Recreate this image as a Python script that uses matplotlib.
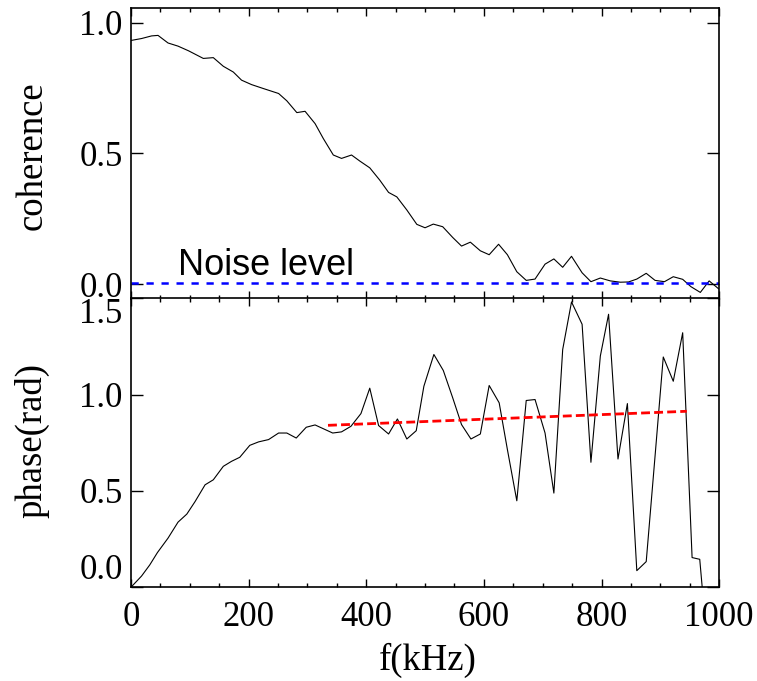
import matplotlib
matplotlib.use('Agg')
import matplotlib.pyplot as plt
from matplotlib.ticker import MultipleLocator, FormatStrFormatter

# coherence spectrum (top panel)
f_coh = [1, 18, 35, 46, 63, 80, 98, 123, 140, 157, 174, 188, 205, 225, 251,
         265, 282, 296, 313, 327, 344, 358, 375, 389, 406, 423, 438, 452, 469,
         486, 500, 514, 530, 547, 562, 577, 594, 609, 625, 640, 656, 672, 687,
         704, 719, 734, 749, 767, 782, 798, 815, 832, 846, 860, 876, 891, 907,
         922, 938, 952, 968, 983, 999]
coh = [0.932, 0.939, 0.949, 0.951, 0.922, 0.910, 0.892, 0.863, 0.866, 0.833,
       0.811, 0.780, 0.763, 0.748, 0.729, 0.701, 0.656, 0.661, 0.614, 0.557,
       0.494, 0.481, 0.494, 0.471, 0.445, 0.398, 0.351, 0.334, 0.284, 0.229,
       0.216, 0.230, 0.220, 0.179, 0.146, 0.161, 0.128, 0.113, 0.153, 0.113,
       0.048, 0.015, 0.020, 0.077, 0.097, 0.065, 0.107, 0.044, 0.010, 0.024,
       0.013, 0.008, 0.009, 0.020, 0.042, 0.015, 0.010, 0.029, 0.019, -0.009,
       -0.031, 0.013, -0.017]

# cross phase (bottom panel)
f_ph = [1, 18, 32, 45, 63, 80, 95, 109, 126, 140, 157, 171, 185, 202, 217,
        234, 251, 265, 281, 298, 313, 328, 343, 358, 374, 391, 406, 421, 438,
        453, 469, 485, 498, 515, 531, 547, 562, 578, 594, 609, 626, 640, 656,
        672, 687, 704, 719, 734, 749, 767, 782, 798, 812, 828, 844, 860, 876,
        891, 905, 922, 938, 954, 967, 985]
phase = [0.002, 0.057, 0.115, 0.179, 0.254, 0.337, 0.379, 0.444, 0.531, 0.557,
         0.627, 0.653, 0.674, 0.736, 0.754, 0.766, 0.800, 0.800, 0.774, 0.830,
         0.842, 0.821, 0.800, 0.806, 0.835, 0.901, 1.033, 0.839, 0.795, 0.873,
         0.769, 0.812, 1.043, 1.208, 1.125, 0.983, 0.844, 0.769, 0.795, 1.047,
         0.957, 0.714, 0.448, 0.969, 0.974, 0.800, 0.488, 1.234, 1.481, 1.365,
         0.648, 1.200, 1.417, 0.665, 0.953, 0.085, 0.132, 0.679, 1.195, 1.069,
         1.321, 0.153, 0.144, -0.48]

noise_x = [0, 1000]
noise_y = [0.005, 0.005]
fit_x = [335, 945]
fit_y = [0.84, 0.913]

plt.rcParams['font.family'] = ['Liberation Serif', 'DejaVu Serif']

fig = plt.figure(figsize=(7.57, 6.81), dpi=100)
ax1 = fig.add_axes([0.173, 0.561, 0.777, 0.427])
ax2 = fig.add_axes([0.173, 0.138, 0.777, 0.424])

ax1.plot(f_coh, coh, color='black', lw=0.8)
ax1.plot(noise_x, noise_y, color='#0000ff', lw=1.8, dashes=(2.9, 3.1))
ax1.text(80, 0.035, 'Noise level', fontsize=26, family=['Liberation Sans', 'DejaVu Sans'],
         ha='left', va='baseline')
ax1.set_xlim(0, 1000)
ax1.set_ylim(-0.056, 1.055)
ax1.set_yticks([0.0, 0.5, 1.0])

ax2.plot(f_ph, phase, color='black', lw=0.8)
ax2.plot(fit_x, fit_y, color='red', lw=2.0, dashes=(3.2, 1.5))
ax2.set_xlim(0, 1000)
ax2.set_ylim(0, 1.5)
ax2.set_yticks([0.0, 0.5, 1.0, 1.5])

for ax in (ax1, ax2):
    ax.xaxis.set_major_locator(MultipleLocator(200))
    ax.xaxis.set_minor_locator(MultipleLocator(50))
    ax.tick_params(axis='x', which='major', direction='in', top=True, bottom=True,
                   length=6, width=1.0, labelsize=25, pad=10)
    ax.tick_params(axis='x', which='minor', direction='in', top=True, bottom=True,
                   length=3, width=1.0)
    ax.tick_params(axis='y', which='major', direction='in', left=True, right=True,
                   length=8.5, width=1.0, labelsize=25, pad=6)
    ax.yaxis.set_major_formatter(FormatStrFormatter('%.1f'))
    for s in ax.spines.values():
        s.set_linewidth(1.2)

ax1.tick_params(axis='x', labelbottom=False)

# end labels of the phase axis sit inside the panel, as in the original
fig.canvas.draw()
ylabels = ax2.get_yticklabels()
ylabels[0].set_va('bottom')
ylabels[-1].set_va('top')

fig.text(32 / 757, 1 - 156 / 681, 'coherence', rotation=90, ha='center', va='center',
         fontsize=26.5)
fig.text(32 / 757, 1 - 440 / 681, 'phase(rad)', rotation=90, ha='center', va='center',
         fontsize=26.5)
fig.text(428 / 757, 1 - 670 / 681, 'f(kHz)', ha='center', va='baseline', fontsize=26.5)

fig.savefig('out.png', dpi=100)
